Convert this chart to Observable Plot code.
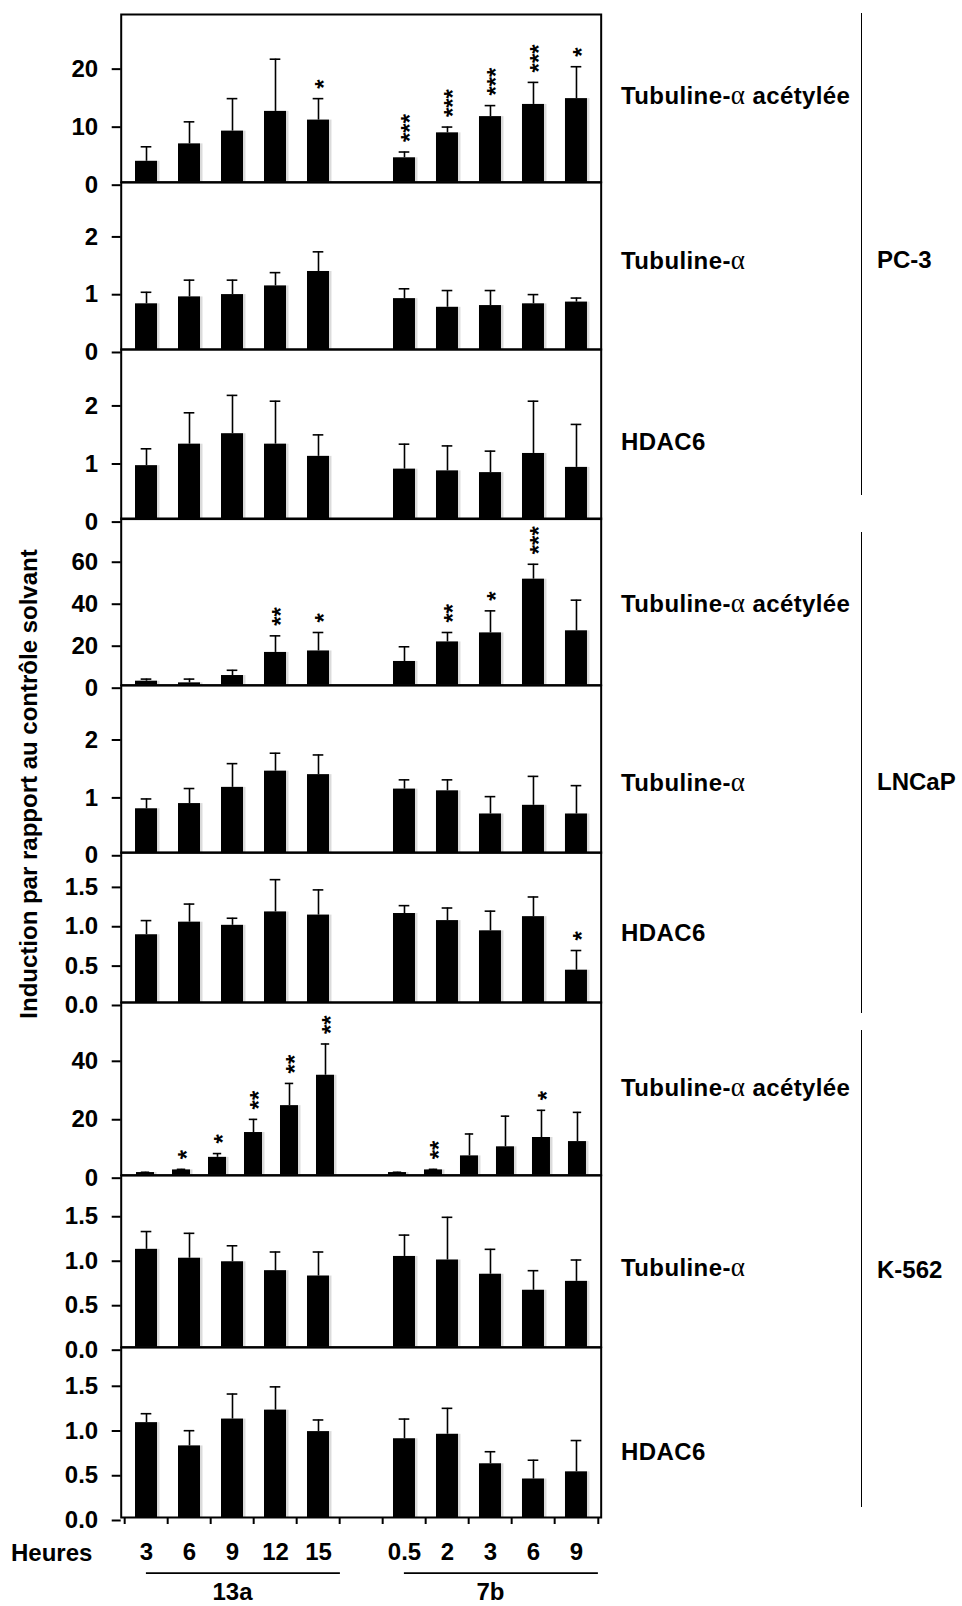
<!DOCTYPE html>
<html>
<head>
<meta charset="utf-8">
<script src="https://cdn.jsdelivr.net/npm/d3@7"></script>
<script src="https://cdn.jsdelivr.net/npm/@observablehq/plot@0.6"></script>
<style>
  html, body { margin: 0; padding: 0; background: #fff; }
  #root { position: relative; width: 962px; height: 1606px; overflow: hidden;
          font-family: "Liberation Sans", Arial, sans-serif; font-weight: bold; color: #000; }
  .panel { position: absolute; left: 0; }
  .lbl { position: absolute; font-size: 24px; white-space: nowrap; transform: translateY(-50%); line-height: 1; }
  .row { letter-spacing: 0.4px; }
  .alpha { font-family: "Liberation Serif", "DejaVu Serif", serif; font-weight: normal; font-size: 27px; }
  .vline { position: absolute; width: 0; border-left: 1.5px solid #000; }
  .ytitle { position: absolute; font-size: 24px; white-space: nowrap; transform: translate(-50%, -50%) rotate(-90deg); line-height: 1; }
</style>
</head>
<body>
<div id="root"></div>
<script>
// ---------------- DATA ----------------
const cellLines = ["PC-3", "LNCaP", "K-562"];
const proteins = ["Tubuline-α acétylée", "Tubuline-α", "HDAC6"];
const compounds = ["13a", "7b"];
const hours13a = ["3", "6", "9", "12", "15"];
const hours7b = ["0.5", "2", "3", "6", "9"];

// one row per panel (top to bottom): PC-3 (acet, tub, HDAC6), LNCaP (...), K-562 (...)
const mean13a = [
  [3.6, 6.6, 8.8, 12.2, 10.7],
  [0.79, 0.91, 0.95, 1.10, 1.35],
  [0.92, 1.29, 1.47, 1.29, 1.08],
  [1.9, 1.1, 4.6, 15.6, 16.3],
  [0.76, 0.85, 1.13, 1.41, 1.35],
  [0.86, 1.02, 0.98, 1.15, 1.11],
  [0.9, 1.8, 6.1, 14.6, 23.8, 34.2],
  [1.10, 1.00, 0.96, 0.86, 0.80],
  [1.06, 0.80, 1.10, 1.20, 0.96]
];
const sd13a = [
  [2.5, 3.8, 5.6, 9.0, 3.7],
  [0.20, 0.29, 0.25, 0.23, 0.34],
  [0.29, 0.54, 0.66, 0.74, 0.37],
  [1.0, 1.8, 2.5, 7.9, 8.8],
  [0.17, 0.26, 0.41, 0.31, 0.34],
  [0.18, 0.23, 0.09, 0.41, 0.32],
  [0.1, 0.2, 1.3, 4.5, 7.6, 10.7],
  [0.20, 0.28, 0.18, 0.21, 0.27],
  [0.10, 0.17, 0.28, 0.26, 0.13]
];
const mean7b = [
  [4.2, 8.5, 11.3, 13.4, 14.4],
  [0.88, 0.73, 0.76, 0.79, 0.82],
  [0.86, 0.83, 0.80, 1.13, 0.89],
  [11.3, 20.6, 24.9, 50.5, 25.9],
  [1.10, 1.07, 0.67, 0.82, 0.67],
  [1.13, 1.04, 0.91, 1.09, 0.41],
  [0.9, 1.8, 6.6, 9.7, 12.9, 11.5],
  [1.02, 0.98, 0.82, 0.64, 0.74],
  [0.88, 0.93, 0.60, 0.43, 0.51]
];
const sd7b = [
  [1.0, 1.0, 1.9, 3.8, 5.5],
  [0.17, 0.29, 0.26, 0.16, 0.07],
  [0.43, 0.43, 0.37, 0.90, 0.74],
  [7.0, 4.5, 10.5, 7.1, 14.6],
  [0.16, 0.19, 0.30, 0.50, 0.49],
  [0.10, 0.16, 0.25, 0.25, 0.25],
  [0.1, 0.2, 7.5, 10.5, 9.3, 10.0],
  [0.24, 0.48, 0.28, 0.22, 0.24],
  [0.22, 0.29, 0.135, 0.21, 0.35]
];
const stars13a = [
  ["", "", "", "", "*"],
  ["", "", "", "", ""],
  ["", "", "", "", ""],
  ["", "", "", "**", "*"],
  ["", "", "", "", ""],
  ["", "", "", "", ""],
  ["", "*", "*", "**", "**", "**"],
  ["", "", "", "", ""],
  ["", "", "", "", ""]
];
const stars7b = [
  ["***", "***", "***", "***", "*"],
  ["", "", "", "", ""],
  ["", "", "", "", ""],
  ["", "**", "*", "***", ""],
  ["", "", "", "", ""],
  ["", "", "", "", "*"],
  ["", "**", "", "", "*", ""],
  ["", "", "", "", ""],
  ["", "", "", "", ""]
];
const yMax = [28.9, 2.89, 2.92, 79.4, 2.89, 1.905, 59.1, 1.93, 1.90];
const yTicks = [
  [0, 10, 20], [0, 1, 2], [0, 1, 2],
  [0, 20, 40, 60], [0, 1, 2], [0, 0.5, 1, 1.5],
  [0, 20, 40], [0, 0.5, 1, 1.5], [0, 0.5, 1, 1.5]
];
const yTickDecimals = [0, 0, 0, 0, 0, 1, 0, 1, 1];
const yTitle = "Induction par rapport au contrôle solvant";
const xTitle = "Heures";

// ---------------- LAYOUT ----------------
const FONT = '"Liberation Sans", Arial, sans-serif';
const FRAME_LEFT = 120.7, FRAME_RIGHT = 600.7;
const panelTop  = [14, 181.7, 348.7, 518.3, 685, 852.3, 1002.3, 1175, 1346.7];
const panelZero = [181.7, 348.7, 518.3, 685, 852.3, 1002.3, 1175, 1346.7, 1516.7];
const rowLabelY = [95, 260, 441.7, 603.3, 781.7, 933.3, 1086.7, 1266.7, 1451.7];
const cellLabelY = [260, 781.7, 1270];
const bracket = [[13.3, 495], [531.7, 1013.3], [1030, 1506.7]];

const root = document.getElementById("root");

for (let i = 0; i < 9; i++) {
  const n = mean13a[i].length;
  const k13 = n === 6 ? ["ctl", ...hours13a] : hours13a;
  const k7 = n === 6 ? ["ctl", ...hours7b] : hours7b;
  const keys = [...k13.map(h => "13a|" + h), "gap", ...k7.map(h => "7b|" + h)];
  const rows = [
    ...k13.map((h, j) => ({key: "13a|" + h, mean: mean13a[i][j], sd: sd13a[i][j], star: stars13a[i][j] || ""})),
    ...k7.map((h, j) => ({key: "7b|" + h, mean: mean7b[i][j], sd: sd7b[i][j], star: stars7b[i][j] || ""}))
  ];
  const step = (FRAME_RIGHT - FRAME_LEFT) / keys.length;
  const bw = step * 0.5;
  const last = i === 8;
  const mt = 20, mb = last ? 100 : 6;
  const h = panelZero[i] - panelTop[i];
  const fmt = d3.format(yTickDecimals[i] ? ".1f" : "d");

  const marks = [
    Plot.barY(rows, {x: "key", y: "mean", fill: "#000", fillOpacity: 0.14, dx: 2.5}),
    Plot.barY(rows, {x: "key", y: "mean", fill: "#000"}),
    Plot.ruleX(rows, {x: "key", y1: "mean", y2: d => d.mean + d.sd, stroke: "#000", strokeWidth: 1.6}),
    Plot.tickY(rows, {x: "key", y: d => d.mean + d.sd, stroke: "#000", strokeWidth: 1.6, insetLeft: bw * 0.26, insetRight: bw * 0.26}),
    // significance asterisks, stacked vertically (rotated label)
    Plot.text(rows.filter(d => d.star), {
      x: "key", y: d => d.mean + d.sd, text: "star", rotate: -90,
      textAnchor: "start", lineAnchor: "middle", dx: 6, dy: -10,
      fontSize: 24, fontWeight: "bold", fill: "#000"
    }),
    Plot.frame({stroke: "#000", strokeWidth: 2}),
    Plot.axisY({ticks: yTicks[i], tickSize: 9, tickPadding: 14, tickFormat: fmt, strokeWidth: 2,
      fontSize: 24, fontWeight: "bold", dy: 3, label: null})
  ];

  if (last) {
    const groups = [
      {from: "13a|" + hours13a[0], to: "13a|" + hours13a[4], mid: "13a|" + hours13a[2], name: compounds[0]},
      {from: "7b|" + hours7b[0], to: "7b|" + hours7b[4], mid: "7b|" + hours7b[2], name: compounds[1]}
    ];
    marks.push(
      Plot.axisX({ticks: keys, tickSize: 7, tickFormat: () => "", dx: -step / 2, strokeWidth: 2, label: null}),
      Plot.axisX({ticks: [keys[keys.length - 1]], tickSize: 7, tickFormat: () => "", dx: step / 2, strokeWidth: 2, label: null}),
      Plot.axisX({ticks: keys.filter(k => k !== "gap"), tickSize: 0, tickPadding: 25,
        tickFormat: k => k.split("|")[1], fontSize: 24, fontWeight: "bold", label: null}),
      Plot.ruleY(groups, {x1: "from", x2: "to", y: 0, dx: bw / 2, dy: 55.6, stroke: "#000", strokeWidth: 1.6}),
      Plot.text(groups, {x: "mid", y: 0, text: "name", dy: 75, fontSize: 24, fontWeight: "bold", fill: "#000"})
    );
  }

  const svg = Plot.plot({
    width: FRAME_RIGHT + 20, height: h + mt + mb,
    marginLeft: FRAME_LEFT, marginRight: 20, marginTop: mt, marginBottom: mb,
    style: {background: "transparent", overflow: "visible", fontFamily: FONT, fontSize: "24px", fontWeight: "bold", color: "#000"},
    x: {type: "band", domain: keys, paddingInner: 0.5, paddingOuter: 0.25, axis: null},
    y: {domain: [0, yMax[i]], axis: null},
    marks
  });
  svg.classList.add("panel");
  svg.style.top = (panelTop[i] - mt) + "px";
  svg.style.maxWidth = "none";
  root.appendChild(svg);
}

// right-side row labels
function addRowLabel(text, y) {
  const d = document.createElement("div");
  d.className = "lbl row";
  d.style.left = "621px";
  d.style.top = y + "px";
  if (text.includes("α")) {
    const [a, b] = text.split("α");
    d.innerHTML = a + '<span class="alpha">α</span>' + b;
  } else d.textContent = text;
  root.appendChild(d);
}
for (let i = 0; i < 9; i++) addRowLabel(proteins[i % 3], rowLabelY[i]);

cellLines.forEach((c, j) => {
  const d = document.createElement("div");
  d.className = "lbl";
  d.style.left = "877px";
  d.style.top = cellLabelY[j] + "px";
  d.textContent = c;
  root.appendChild(d);
  const l = document.createElement("div");
  l.className = "vline";
  l.style.left = "860.5px";
  l.style.top = bracket[j][0] + "px";
  l.style.height = (bracket[j][1] - bracket[j][0]) + "px";
  root.appendChild(l);
});

// y title
const yt = document.createElement("div");
yt.className = "ytitle";
yt.style.left = "29px";
yt.style.top = "784px";
yt.textContent = yTitle;
root.appendChild(yt);

// x title
const xt = document.createElement("div");
xt.className = "lbl";
xt.style.left = "11px";
xt.style.top = "1553px";
xt.textContent = xTitle;
root.appendChild(xt);
</script>
</body>
</html>
